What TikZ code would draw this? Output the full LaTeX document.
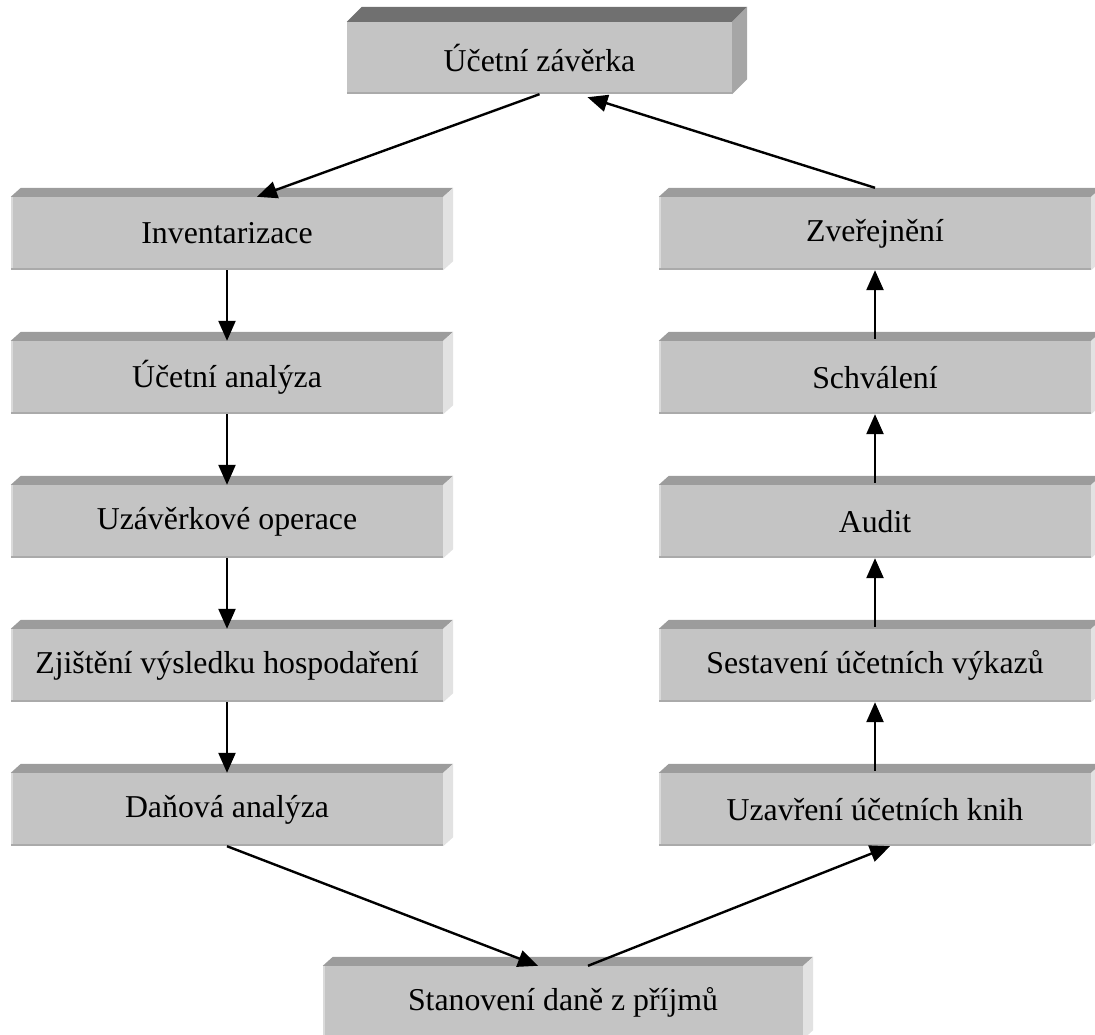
\documentclass[tikz,border=0pt]{standalone}
\usepackage{fontspec}
\setmainfont{Liberation Serif}
\usetikzlibrary{arrows.meta}
\usetikzlibrary{calc}
\usetikzlibrary{positioning}

\definecolor{boxfront}{RGB}{196,196,196}
\definecolor{boxtop}{RGB}{156,156,156}
\definecolor{boxside}{RGB}{226,226,226}
\definecolor{headtop}{RGB}{112,112,112}
\definecolor{headside}{RGB}{166,166,166}
\definecolor{boxlow}{RGB}{170,170,170}
\definecolor{boxleft}{RGB}{218,218,218}

\tikzset{
  stage/.style={fill=boxfront, minimum width=432pt, minimum height=73pt, inner sep=0pt,
    font=\fontsize{31.8}{38}\selectfont},
  flow/.style={line width=2.4pt, -{Triangle[length=20pt,width=17pt]}}
}

\begin{document}
\begin{tikzpicture}[x=1pt,y=-1pt]

\useasboundingbox (0,0) rectangle (1095,1035);

\pgfmathsetmacro{\lx}{227};
\pgfmathsetmacro{\rx}{875};
\pgfmathsetmacro{\dy}{144};

% boxes
\node[stage, minimum width=385pt, minimum height=72pt] (zaverka) at (539.5,58) {Účetní závěrka};

\node[stage] (invent) at (\lx,233.5) {Inventarizace};
\node[stage] (analyza) at (\lx,233.5+\dy) {Účetní analýza};
\node[stage] (operace) at (\lx,233.5+2*\dy) {Uzávěrkové operace};
\node[stage] (vysledek) at (\lx,233.5+3*\dy) {Zjištění výsledku hospodaření};
\node[stage] (danova) at (\lx,233.5+4*\dy) {Daňová analýza};

\node[stage] (zverej) at (\rx,233.5) {Zveřejnění};
\node[stage] (schval) at (\rx,233.5+\dy) {Schválení};
\node[stage] (audit) at (\rx,233.5+2*\dy) {Audit};
\node[stage] (sestav) at (\rx,233.5+3*\dy) {Sestavení účetních výkazů};
\node[stage] (uzavr) at (\rx,233.5+4*\dy) {Uzavření účetních knih};

\node[stage, minimum width=480pt] (stanov) at (563,1002.5) {Stanovení daně z příjmů};

% 3d faces
\foreach \n in {invent,analyza,operace,vysledek,danova,zverej,schval,audit,sestav,uzavr,stanov} {
  \fill[boxtop] (\n.north west) -- ++(10,-9) -- ($(\n.north east)+(10,-9)$) -- (\n.north east) -- cycle;
  \fill[boxside] (\n.north east) -- ++(10,-9) -- ($(\n.south east)+(10,-9)$) -- (\n.south east) -- cycle;
  \draw[boxleft, line width=2pt] ($(\n.north west)+(1,0)$) -- ($(\n.south west)+(1,0)$);
  \draw[boxlow, line width=2pt] ($(\n.south west)+(0,-1)$) -- ($(\n.south east)+(0,-1)$);
}
\fill[headtop] (zaverka.north west) -- ++(15,-15) -- ($(zaverka.north east)+(15,-15)$) -- (zaverka.north east) -- cycle;
\fill[headside] (zaverka.north east) -- ++(15,-15) -- ($(zaverka.south east)+(15,-15)$) -- (zaverka.south east) -- cycle;
\draw[boxlow, line width=2pt] ($(zaverka.south west)+(0,-1)$) -- ($(zaverka.south east)+(0,-1)$);

% left column, downwards
\draw[flow] (zaverka.south) -- ([xshift=30pt]invent.north);
\draw[flow] (invent.south) -- (analyza.north);
\draw[flow] (analyza.south) -- (operace.north);
\draw[flow] (operace.south) -- (vysledek.north);
\draw[flow] (vysledek.south) -- (danova.north);
\draw[flow] (danova.south) -- ([xshift=-25pt]stanov.north);

% right column, upwards
\draw[flow] ([xshift=25pt]stanov.north) -- ([xshift=15pt]uzavr.south);
\draw[flow] ([yshift=2pt]uzavr.north) -- (sestav.south);
\draw[flow] ([yshift=2pt]sestav.north) -- (audit.south);
\draw[flow] ([yshift=2pt]audit.north) -- (schval.south);
\draw[flow] ([yshift=2pt]schval.north) -- (zverej.south);
\draw[flow] ([yshift=9pt]zverej.north) -- ($(zaverka.south)+(48,3)$);

\end{tikzpicture}
\end{document}
